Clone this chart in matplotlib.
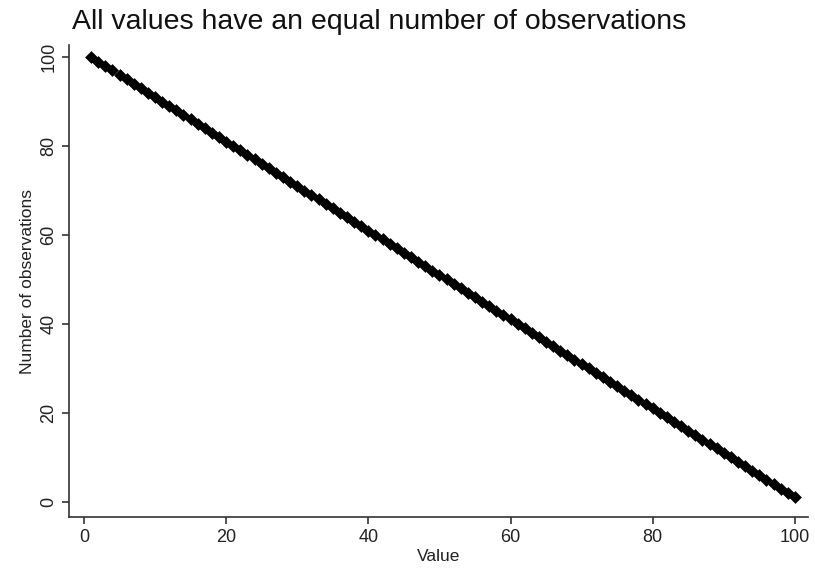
import matplotlib.pyplot as plt

plt.rcParams['font.family'] = ['Liberation Sans', 'DejaVu Sans']

# value and number of observations
value = [1, 2, 3, 4, 5, 6, 7, 8, 9, 10,
         11, 12, 13, 14, 15, 16, 17, 18, 19, 20,
         21, 22, 23, 24, 25, 26, 27, 28, 29, 30,
         31, 32, 33, 34, 35, 36, 37, 38, 39, 40,
         41, 42, 43, 44, 45, 46, 47, 48, 49, 50,
         51, 52, 53, 54, 55, 56, 57, 58, 59, 60,
         61, 62, 63, 64, 65, 66, 67, 68, 69, 70,
         71, 72, 73, 74, 75, 76, 77, 78, 79, 80,
         81, 82, 83, 84, 85, 86, 87, 88, 89, 90,
         91, 92, 93, 94, 95, 96, 97, 98, 99, 100]
n_obs = [100, 99, 98, 97, 96, 95, 94, 93, 92, 91,
         90, 89, 88, 87, 86, 85, 84, 83, 82, 81,
         80, 79, 78, 77, 76, 75, 74, 73, 72, 71,
         70, 69, 68, 67, 66, 65, 64, 63, 62, 61,
         60, 59, 58, 57, 56, 55, 54, 53, 52, 51,
         50, 49, 48, 47, 46, 45, 44, 43, 42, 41,
         40, 39, 38, 37, 36, 35, 34, 33, 32, 31,
         30, 29, 28, 27, 26, 25, 24, 23, 22, 21,
         20, 19, 18, 17, 16, 15, 14, 13, 12, 11,
         10, 9, 8, 7, 6, 5, 4, 3, 2, 1]
xticks = [0, 20, 40, 60, 80, 100]
yticks = [0, 20, 40, 60, 80, 100]

fig = plt.figure(figsize=(8.15, 5.72), dpi=100)
ax = fig.add_axes([0.0847, 0.0962, 0.9063, 0.825])

ax.scatter(value, n_obs, marker='D', s=36, color='black', linewidths=0.5,
           edgecolors='black')

ax.set_xlim(-2.1, 101.8)
ax.set_ylim(-3.4, 102.7)
ax.set_xticks(xticks)
ax.set_yticks(yticks)
ax.tick_params(axis='both', direction='out', length=5, width=1.2,
               colors='#333333', labelsize=13, labelcolor='#222222')
for lab in ax.get_yticklabels():
    lab.set_rotation(90)
    lab.set_va('center')

for side in ['top', 'right']:
    ax.spines[side].set_visible(False)
for side in ['left', 'bottom']:
    ax.spines[side].set_color('#333333')
    ax.spines[side].set_linewidth(1.2)

ax.set_xlabel('Value', fontsize=12.5, color='#222222', labelpad=2)
ax.set_ylabel('Number of observations', fontsize=12.5, color='#222222', labelpad=4)
fig.text(0.088, 0.962, 'All values have an equal number of observations',
         fontsize=20.5, color='#111111', va='center', ha='left')

fig.savefig('out.png', dpi=100)
